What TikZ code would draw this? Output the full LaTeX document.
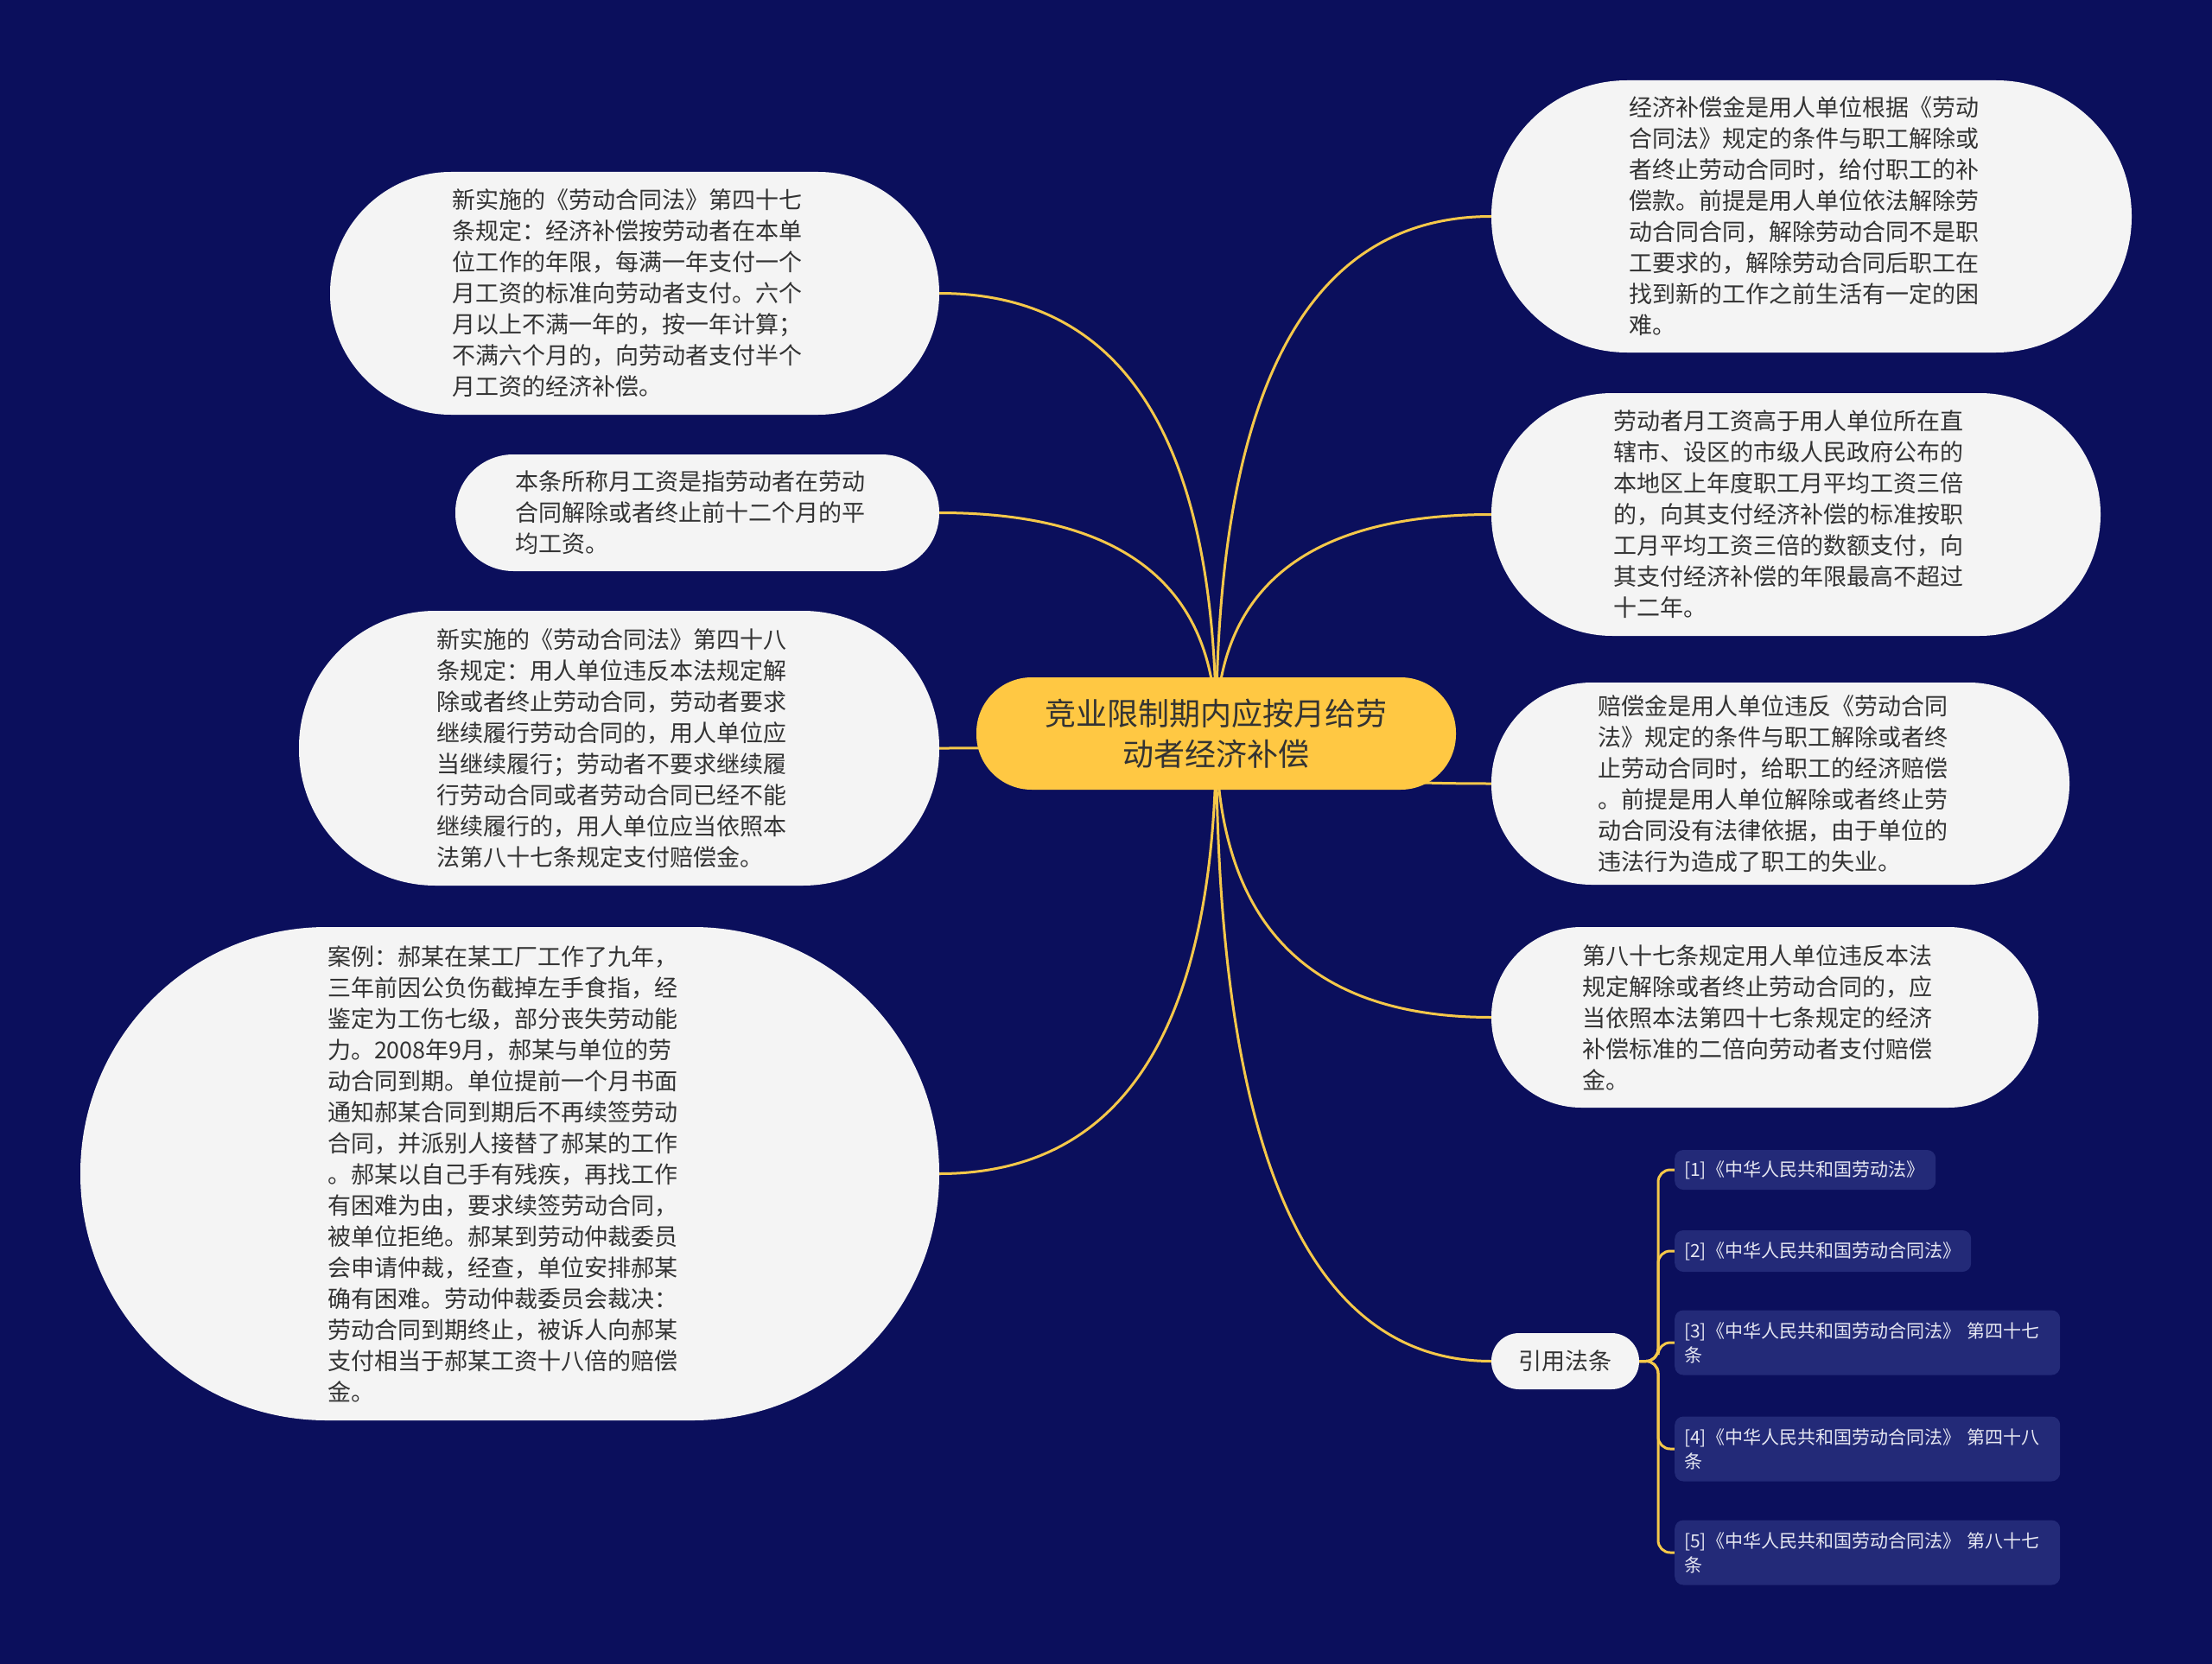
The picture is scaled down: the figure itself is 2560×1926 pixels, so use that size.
\documentclass[tikz,border=0pt]{standalone}
\usepackage{fontspec}
\newfontfamily\cjk{Noto Sans CJK SC}
\usetikzlibrary{calc,backgrounds}
\definecolor{bgnavy}{HTML}{0B0F5C}
\definecolor{leaffill}{HTML}{F4F4F4}
\definecolor{rootfill}{HTML}{FFC843}
\definecolor{linkcol}{HTML}{F5C84A}
\definecolor{citefill}{HTML}{232A78}
\definecolor{citetext}{HTML}{E6E7F2}
\definecolor{txt}{HTML}{333333}
\tikzset{
  leaf/.style={fill=leaffill, text=txt, font=\cjk\fontsize{27}{36}\selectfont,
    text width=422pt, align=left, inner xsep=0pt, inner ysep=0pt},
  rootbox/.style={fill=rootfill, text=txt, font=\cjk\fontsize{36}{47}\selectfont,
    align=center, minimum width=555pt, minimum height=130pt, rounded corners=64pt},
  tagbox/.style={fill=leaffill, text=txt, font=\cjk\fontsize{27}{36}\selectfont,
    minimum width=171pt, minimum height=65pt, rounded corners=32pt, inner sep=0pt},
  citebox/.style={fill=citefill, text=citetext, font=\cjk\fontsize{21}{28}\selectfont,
    align=left, anchor=west, inner xsep=11pt, inner ysep=0pt, rounded corners=10pt},
  conn/.style={draw=linkcol, line width=3pt},
}
\newcommand\mmconn[2]{\draw[conn] (#1) .. controls ($(#1)!0.667!(#1 |- #2)$) and ($(#2)!0.667!(#1 |- #2)$) .. (#2);}
\newcommand\citeconn[2]{\draw[conn, rounded corners=14pt] (#1) -| ($(#2)+(-19,0)$) -- (#2);}
\begin{document}
\begin{tikzpicture}[x=1pt,y=-1pt]
\useasboundingbox (0,0) rectangle (2560,1926);

\node[rootbox] (c) at (1407.5,849) {竞业限制期内应按月给劳\\动者经济补偿};

\node[leaf, minimum width=705pt, minimum height=281pt, rounded corners=140pt] (L1) at (734.5,339.5) {新实施的《劳动合同法》第四十七\\条规定：经济补偿按劳动者在本单\\位工作的年限，每满一年支付一个\\月工资的标准向劳动者支付。六个\\月以上不满一年的，按一年计算；\\不满六个月的，向劳动者支付半个\\月工资的经济补偿。};

\node[leaf, minimum width=560pt, minimum height=135pt, rounded corners=67pt] (L2) at (807,593.5) {本条所称月工资是指劳动者在劳动\\合同解除或者终止前十二个月的平\\均工资。};

\node[leaf, minimum width=741pt, minimum height=318pt, rounded corners=158pt] (L3) at (716.5,866) {新实施的《劳动合同法》第四十八\\条规定：用人单位违反本法规定解\\除或者终止劳动合同，劳动者要求\\继续履行劳动合同的，用人单位应\\当继续履行；劳动者不要求继续履\\行劳动合同或者劳动合同已经不能\\继续履行的，用人单位应当依照本\\法第八十七条规定支付赔偿金。};

\node[leaf, minimum width=994pt, minimum height=571pt, rounded corners=285pt] (L4) at (590,1358.5) {案例：郝某在某工厂工作了九年，\\三年前因公负伤截掉左手食指，经\\鉴定为工伤七级，部分丧失劳动能\\力。2008年9月，郝某与单位的劳\\动合同到期。单位提前一个月书面\\通知郝某合同到期后不再续签劳动\\合同，并派别人接替了郝某的工作\\。郝某以自己手有残疾，再找工作\\有困难为由，要求续签劳动合同，\\被单位拒绝。郝某到劳动仲裁委员\\会申请仲裁，经查，单位安排郝某\\确有困难。劳动仲裁委员会裁决：\\劳动合同到期终止，被诉人向郝某\\支付相当于郝某工资十八倍的赔偿\\金。};

\node[leaf, minimum width=741pt, minimum height=315pt, rounded corners=157pt] (R1) at (2096.5,250.5) {经济补偿金是用人单位根据《劳动\\合同法》规定的条件与职工解除或\\者终止劳动合同时，给付职工的补\\偿款。前提是用人单位依法解除劳\\动合同合同，解除劳动合同不是职\\工要求的，解除劳动合同后职工在\\找到新的工作之前生活有一定的困\\难。};

\node[leaf, minimum width=705pt, minimum height=281pt, rounded corners=140pt] (R2) at (2078.5,595.5) {劳动者月工资高于用人单位所在直\\辖市、设区的市级人民政府公布的\\本地区上年度职工月平均工资三倍\\的，向其支付经济补偿的标准按职\\工月平均工资三倍的数额支付，向\\其支付经济补偿的年限最高不超过\\十二年。};

\node[leaf, minimum width=669pt, minimum height=234pt, rounded corners=116pt] (R3) at (2060.5,907) {赔偿金是用人单位违反《劳动合同\\法》规定的条件与职工解除或者终\\止劳动合同时，给职工的经济赔偿\\。前提是用人单位解除或者终止劳\\动合同没有法律依据，由于单位的\\违法行为造成了职工的失业。};

\node[leaf, minimum width=633pt, minimum height=209pt, rounded corners=104pt] (R4) at (2042.5,1177.5) {第八十七条规定用人单位违反本法\\规定解除或者终止劳动合同的，应\\当依照本法第四十七条规定的经济\\补偿标准的二倍向劳动者支付赔偿\\金。};

\node[tagbox] (R5) at (1811.5,1575.5) {引用法条};

\node[citebox, text width=280pt, minimum height=46pt] (C1) at (1938,1354) {[1]《中华人民共和国劳动法》};
\node[citebox, text width=321pt, minimum height=48pt] (C2) at (1938,1448) {[2]《中华人民共和国劳动合同法》};
\node[citebox, text width=424pt, minimum height=75pt] (C3) at (1938,1554) {[3]《中华人民共和国劳动合同法》 第四十七\\条};
\node[citebox, text width=424pt, minimum height=75pt] (C4) at (1938,1677) {[4]《中华人民共和国劳动合同法》 第四十八\\条};
\node[citebox, text width=424pt, minimum height=75pt] (C5) at (1938,1797) {[5]《中华人民共和国劳动合同法》 第八十七\\条};

\begin{scope}[on background layer]
  \fill[bgnavy] (0,0) rectangle (2560,1926);
  \mmconn{c.center}{L1.east}
  \mmconn{c.center}{L2.east}
  \mmconn{c.center}{L3.east}
  \mmconn{c.center}{L4.east}
  \mmconn{c.center}{R1.west}
  \mmconn{c.center}{R2.west}
  \mmconn{c.center}{R3.west}
  \mmconn{c.center}{R4.west}
  \mmconn{c.center}{R5.west}
  \citeconn{R5.east}{C1.west}
  \citeconn{R5.east}{C2.west}
  \citeconn{R5.east}{C3.west}
  \citeconn{R5.east}{C4.west}
  \citeconn{R5.east}{C5.west}
\end{scope}
\end{tikzpicture}
\end{document}
